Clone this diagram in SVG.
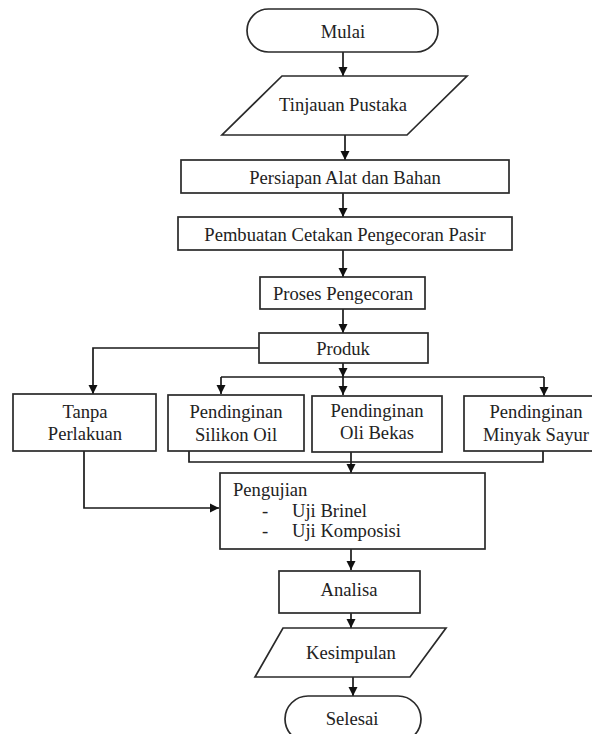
<svg xmlns="http://www.w3.org/2000/svg" width="592" height="734" viewBox="0 0 592 734">
<defs>
<style>
.s{fill:#fff;stroke:#2a2a2a;stroke-width:1.7}
.c{fill:none;stroke:#1a1a1a;stroke-width:1.7}
text{font-family:"Liberation Serif","Times New Roman",serif;font-size:18.6px;fill:#222}
.m{text-anchor:middle}
</style>
<marker id="ah" viewBox="0 0 10 10" refX="10" refY="5" markerWidth="9" markerHeight="10" markerUnits="userSpaceOnUse" orient="auto">
<path d="M0,0 L10,5 L0,10 Z" fill="#111"/>
</marker>
</defs>
<rect width="592" height="734" fill="#fff"/>
<g id="connectors">
<path class="c" d="M343,52 V76" marker-end="url(#ah)"/>
<path class="c" d="M345,135 V160" marker-end="url(#ah)"/>
<path class="c" d="M343,193 V217" marker-end="url(#ah)"/>
<path class="c" d="M343,250 V277" marker-end="url(#ah)"/>
<path class="c" d="M343,309 V333" marker-end="url(#ah)"/>
<path class="c" d="M343,363 V377" marker-end="url(#ah)"/>
<path class="c" d="M221,377 H544"/>
<path class="c" d="M221,377 V394" marker-end="url(#ah)"/>
<path class="c" d="M343,377 V395" marker-end="url(#ah)"/>
<path class="c" d="M544,377 V396" marker-end="url(#ah)"/>
<path class="c" d="M259,348 H93 V394" marker-end="url(#ah)"/>
<path class="c" d="M189,451 V462 H543 V451"/>
<path class="c" d="M351,452 V473" marker-end="url(#ah)"/>
<path class="c" d="M84,451 V508 H219" marker-end="url(#ah)"/>
<path class="c" d="M351,549 V570" marker-end="url(#ah)"/>
<path class="c" d="M351,613 V628" marker-end="url(#ah)"/>
<path class="c" d="M353,677 V696" marker-end="url(#ah)"/>
</g>
<g id="mulai"><rect class="s" x="247" y="9" width="191" height="43" rx="21.5"/><text class="m" x="343" y="38">Mulai</text></g>
<g id="tinjauan"><polygon class="s" points="282,76 467,76 407,135 222,135"/><text class="m" x="343" y="111">Tinjauan Pustaka</text></g>
<g id="persiapan"><rect class="s" x="181" y="160" width="328" height="33"/><text class="m" x="345" y="184">Persiapan Alat dan Bahan</text></g>
<g id="pembuatan"><rect class="s" x="178" y="217" width="334" height="33"/><text class="m" x="345" y="241">Pembuatan Cetakan Pengecoran Pasir</text></g>
<g id="proses"><rect class="s" x="260" y="277" width="165" height="32"/><text class="m" x="343" y="300">Proses Pengecoran</text></g>
<g id="produk"><rect class="s" x="259" y="333" width="169" height="30"/><text class="m" x="343" y="355">Produk</text></g>
<g id="tanpa"><rect class="s" x="13" y="394" width="143" height="57"/><text class="m" x="85" y="418">Tanpa</text><text class="m" x="85" y="440">Perlakuan</text></g>
<g id="silikon"><rect class="s" x="168" y="395" width="136" height="56"/><text class="m" x="236" y="418">Pendinginan</text><text class="m" x="236" y="441">Silikon Oil</text></g>
<g id="oli"><rect class="s" x="312" y="396" width="130" height="56"/><text class="m" x="377" y="417">Pendinginan</text><text class="m" x="377" y="439">Oli Bekas</text></g>
<g id="minyak"><rect class="s" x="464" y="396" width="140" height="55"/><text class="m" x="536" y="418">Pendinginan</text><text class="m" x="536" y="441">Minyak Sayur</text></g>
<g id="pengujian"><rect class="s" x="220" y="473" width="265" height="76"/><text x="233" y="496">Pengujian</text><text x="262" y="517">-</text><text x="292" y="517">Uji Brinel</text><text x="262" y="537">-</text><text x="292" y="537">Uji Komposisi</text></g>
<g id="analisa"><rect class="s" x="279" y="571" width="141" height="42"/><text class="m" x="349" y="596">Analisa</text></g>
<g id="kesimpulan"><polygon class="s" points="283,628 446,628 410,677 255,677"/><text class="m" x="351" y="659">Kesimpulan</text></g>
<g id="selesai"><rect class="s" x="285" y="696" width="136" height="46" rx="23"/><text class="m" x="352" y="725">Selesai</text></g>
</svg>
